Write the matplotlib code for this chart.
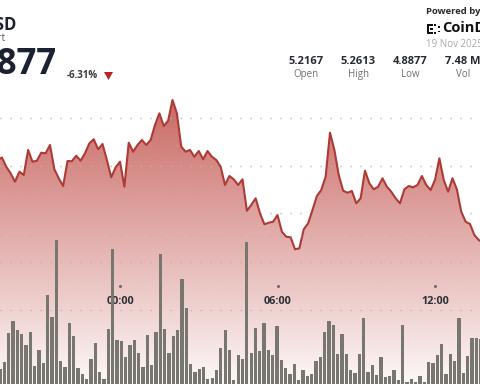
import numpy as np
import matplotlib
matplotlib.use("Agg")
import matplotlib.pyplot as plt
from matplotlib.patches import Rectangle, Polygon

plt.rcParams['font.family'] = ['Open Sans', 'DejaVu Sans']

# prix toutes les 10 minutes (minutes depuis 00:00)
minutes = list(range(-280, 840, 10))
prices = [
    5.2013, 5.2038, 5.1946, 5.1880, 5.1796, 5.1896, 5.1863, 5.2113, 5.1996, 5.2006,
    5.2086, 5.2080, 5.2163, 5.1920, 5.1830, 5.1753, 5.2003, 5.2001, 5.2056, 5.2006,
    5.2080, 5.2180, 5.2220, 5.2120, 5.2173, 5.2013, 5.1840, 5.1940, 5.1996, 5.1746,
    5.2186, 5.2096, 5.2163, 5.2213, 5.2163, 5.2213, 5.2363, 5.2480, 5.2353, 5.2406,
    5.2613, 5.2480, 5.2146, 5.2096, 5.2113, 5.2046, 5.2103, 5.2020, 5.2103, 5.2046,
    5.2013, 5.1946, 5.1763, 5.1853, 5.1820, 5.1763, 5.1820, 5.1506, 5.1563, 5.1630,
    5.1480, 5.1370, 5.1386, 5.1396, 5.1463, 5.1296, 5.1246, 5.1240, 5.1120, 5.1130,
    5.1320, 5.1380, 5.1513, 5.1653, 5.1713, 5.1846, 5.2286, 5.2113, 5.1863, 5.1706,
    5.1686, 5.1703, 5.1580, 5.1630, 5.1906, 5.1780, 5.1720, 5.1746, 5.1830, 5.1746,
    5.1696, 5.1630, 5.1580, 5.1720, 5.1753, 5.1740, 5.1763, 5.1853, 5.1763, 5.1713,
    5.1813, 5.2030, 5.1813, 5.1696, 5.1830, 5.1720, 5.1496, 5.1396, 5.1373, 5.1263,
    5.1213, 5.1183,
]

# volumes (milliers) par barre
volumes = [
    31, 45, 103, 127, 108, 101, 78, 104, 36, 69, 43, 178, 135, 288, 46, 34,
    123, 97, 33, 21, 11, 51, 83, 25, 11, 111, 271, 88, 86, 54, 79, 88,
    63, 35, 98, 39, 105, 260, 110, 63, 97, 108, 211, 153, 41, 25, 31, 35,
    10, 13, 28, 73, 108, 68, 8, 58,
    51, 285, 63, 113, 67, 123, 69, 59, 116, 48, 33, 20, 40, 9, 29, 17,
    20, 46, 54, 105, 127, 119, 60, 101, 60, 28, 23, 60, 133, 25, 38, 18,
    55, 15, 16, 29, 8, 118, 5, 11, 5, 17, 5, 45, 43, 59, 80, 21,
    61, 47, 133, 23, 57, 93, 93, 90,
]

time_ticks = [0, 360, 720]
time_labels = ["00:00", "06:00", "12:00"]

stats = ["5.2167", "5.2613", "4.8877", "7.48 M"]
stat_names = ["Open", "High", "Low", "Vol"]

W, H = 480, 384
LINE = "#ad3a35"
BAR = "#77766f"
DARK = "#1b2130"


def fx(x):
    return x / W


def fy(y):
    return 1 - y / H


fig = plt.figure(figsize=(4.8, 3.84), dpi=100)
fig.patch.set_facecolor("white")

# --- prix ---
ax = fig.add_axes([0, 0, 1, 1])
ax.set_xlim(-274.29, 822.86)
ax.set_ylim(4.9773, 5.3613)
ax.axis("off")

grad = np.zeros((256, 2, 4))
grad[:, :, 0] = 190 / 255
grad[:, :, 1] = 72 / 255
grad[:, :, 2] = 66 / 255
alpha = np.linspace(0.04, 0.82, 256)
grad[:, :, 3] = alpha[:, None]
im = ax.imshow(grad, extent=[-274.29, 822.86, 4.9773, 5.2613], origin="lower",
               aspect="auto", zorder=1, interpolation="bilinear")
poly = Polygon(list(zip(minutes, prices)) + [(minutes[-1], 4.9), (minutes[0], 4.9)],
               closed=True, facecolor="none", edgecolor="none")
ax.add_patch(poly)
im.set_clip_path(poly)

for g in [5.2433, 5.1953, 5.1483, 5.0993]:
    ax.axhline(g, color="#b9b2b0", lw=1.0, ls=(0, (0.9, 6.3)), zorder=2)

ax.plot(minutes, prices, color=LINE, lw=1.5, zorder=3, solid_joinstyle="round")

for t, lab in zip(time_ticks, time_labels):
    ax.text(t, fy(301), lab, transform=ax.get_xaxis_transform(), ha="center",
            va="center", fontsize=7.8, fontweight="bold", color="#2c2f36", zorder=5)
    ax.plot([t], [fy(286)], transform=ax.get_xaxis_transform(), marker="o",
            ms=1.2, color="#6b6b6b", zorder=5)

# --- volume ---
axv = fig.add_axes([0, 0, 1, 1], facecolor="none")
axv.set_xlim(0, 110.85)
axv.set_ylim(0, 768)
axv.axis("off")
for g in [148, 296]:
    axv.axhline(g, color="#b9b2b0", lw=1.0, ls=(0, (0.9, 6.3)), zorder=1)
axv.bar(np.arange(len(volumes)), volumes, width=0.76, color=BAR, zorder=2)

# --- en-tete ---
fig.text(fx(16.5), fy(25), "ICP/USD", ha="right", va="center", fontsize=12,
         fontweight="bold", color=DARK)
fig.text(fx(5), fy(38.5), "Price Chart", ha="right", va="center", fontsize=7,
         color="#555555")
fig.text(fx(56), fy(65), "4.8877", ha="right", va="center", fontsize=25,
         fontweight="bold", color=DARK)
fig.text(fx(67), fy(75.5), "-6.31%", ha="left", va="center", fontsize=7,
         fontweight="bold", color="#3a3a3a")
fig.patches.append(Polygon([[fx(104), fy(72)], [fx(113), fy(72)], [fx(108.5), fy(80)]],
                           closed=True, transform=fig.transFigure,
                           facecolor="#b8271f", edgecolor="none"))

fig.text(fx(426.5), fy(11), "Powered by", ha="left", va="center", fontsize=6.8,
         fontweight="bold", color="#2a2a2a")
# logo CoinDesk (simplifie)
for (x, y, w, h) in [(427, 24, 2.2, 10), (427, 24, 6, 2), (427, 32, 6, 2),
                     (430, 28, 3, 2), (434, 24, 2, 2), (434, 32, 2, 2),
                     (438, 26, 1.8, 1.8), (438, 30.5, 1.8, 1.8)]:
    fig.patches.append(Rectangle((fx(x), fy(y + h)), w / W, h / H,
                                 transform=fig.transFigure, facecolor="#111111",
                                 edgecolor="none"))
fig.text(fx(442.5), fy(28.5), "CoinDesk", ha="left", va="center", fontsize=10.5,
         fontweight="bold", color="#111111")
fig.text(fx(426), fy(44.5), "19 Nov 2025", ha="left", va="center", fontsize=7,
         color="#a9a9a9")

for i, (v, n) in enumerate(zip(stats, stat_names)):
    cx = 306 + i * 52.3
    fig.text(fx(cx), fy(61), v, ha="center", va="center", fontsize=8,
             fontweight="bold", color="#262a33")
    fig.text(fx(cx), fy(74.5), n, ha="center", va="center", fontsize=7,
             color="#6f6f6f")

fig.savefig("out.png", dpi=100)
